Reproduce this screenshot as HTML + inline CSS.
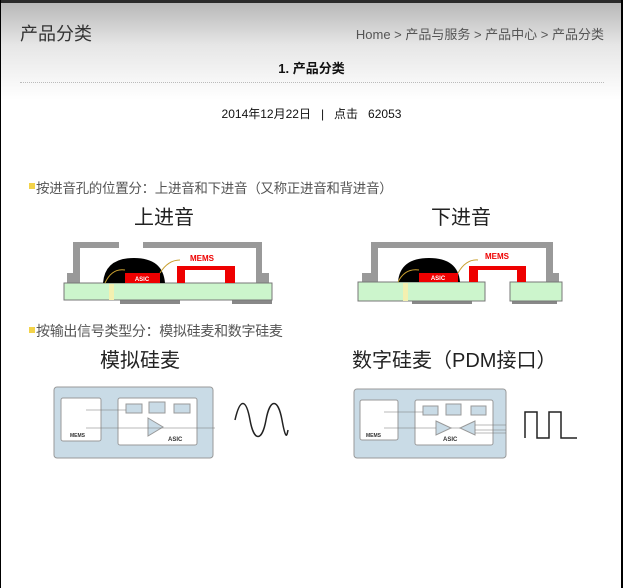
<!DOCTYPE html>
<html><head><meta charset="utf-8"><style>
body{margin:0;width:623px;height:588px;overflow:hidden;background:#fff;font-family:"Liberation Sans","Noto Sans CJK SC",sans-serif;position:relative}
.hdr{position:absolute;left:0;top:0;width:623px;height:100px;background:linear-gradient(#b5b5b5,#e6e6e6 45%,#fff)}
.t{position:absolute;white-space:nowrap}
</style></head><body>
<div class="hdr"></div>
<div style="position:absolute;left:0;top:0;width:623px;height:3px;background:#2a2a2a"></div>
<div style="position:absolute;left:0;top:0;width:1px;height:588px;background:#000"></div>
<div style="position:absolute;right:0;top:0;width:2px;height:588px;background:#000"></div>
<div class="t" style="left:20px;top:20px;font-size:18px;color:#333">产品分类</div>
<div class="t" style="right:19px;top:24px;font-size:13px;color:#555">Home &gt; 产品与服务 &gt; 产品中心 &gt; 产品分类</div>
<div class="t" style="left:0;width:623px;text-align:center;top:58px;font-size:13px;font-weight:bold;color:#111">1. 产品分类</div>
<div style="position:absolute;left:20px;top:82px;width:584px;border-top:1px dotted #bbb"></div>
<div class="t" style="left:0;width:623px;text-align:center;top:105px;font-size:12px;color:#111">2014年12月22日 &nbsp;&nbsp;| &nbsp;&nbsp;点击 &nbsp;&nbsp;62053</div>
<div style="position:absolute;left:29px;top:183px;width:6px;height:6px;background:#f3d34a"></div>
<div class="t" style="left:36px;top:177px;font-size:13.5px;letter-spacing:-0.3px;color:#555">按进音孔的位置分：上进音和下进音（又称正进音和背进音）</div>
<div class="t" style="left:134px;top:201px;font-size:20px;color:#222">上进音</div>
<div class="t" style="left:431px;top:201px;font-size:20px;color:#222">下进音</div>
<div style="position:absolute;left:29px;top:327px;width:6px;height:6px;background:#f3d34a"></div>
<div class="t" style="left:36px;top:321px;font-size:14px;letter-spacing:-0.3px;color:#555">按输出信号类型分：模拟硅麦和数字硅麦</div>
<div class="t" style="left:100px;top:344px;font-size:20px;color:#222">模拟硅麦</div>
<div class="t" style="left:352px;top:344px;font-size:20px;color:#222">数字硅麦（PDM接口）</div>
<svg width="623" height="588" style="position:absolute;left:0;top:0">
<g>
<path d="M67,283V273H73V242H119V248H80V283Z" fill="#999"/>
<path d="M143,242H262V273H269V283H256V248H143Z" fill="#999"/>
<rect x="120" y="298" width="60" height="6" fill="#888"/><rect x="232" y="298" width="40" height="6" fill="#888"/>
<rect x="64" y="283" width="208" height="17" fill="#ccf5cc" stroke="#777"/>
<rect x="109" y="284" width="5" height="16" fill="#f3f0b0"/>
<path d="M103,283Q105,258 134,258Q163,258 165,283Z" fill="#000"/>
<rect x="125" y="273" width="35" height="10" fill="#e00"/>
<text x="142" y="281" font-size="6" fill="#fff" text-anchor="middle" font-weight="bold">ASIC</text>
<path d="M105,283Q112,268 125,270M160,273Q168,260 180,260" stroke="#c9a030" fill="none"/>
<path d="M177,283V266H235V283H225V270H185V283Z" fill="#e00"/>
<text x="190" y="261" font-size="8" fill="#e00" font-weight="bold">MEMS</text>
</g>
<g>
<path d="M362,282V273H371V242H553V273H559V282H546V248H378V282Z" fill="#999"/>
<rect x="412" y="298" width="60" height="6" fill="#888"/><rect x="512" y="298" width="45" height="6" fill="#888"/>
<rect x="358" y="282" width="127" height="19" fill="#ccf5cc" stroke="#777"/>
<rect x="510" y="282" width="52" height="19" fill="#ccf5cc" stroke="#777"/>
<rect x="403" y="283" width="5" height="18" fill="#f3f0b0"/>
<path d="M398,282Q400,258 429,258Q458,258 460,282Z" fill="#000"/>
<rect x="419" y="273" width="39" height="9" fill="#e00"/>
<text x="438" y="280" font-size="6" fill="#fff" text-anchor="middle" font-weight="bold">ASIC</text>
<path d="M398,282Q405,268 419,270M458,273Q466,259 478,260" stroke="#c9a030" fill="none"/>
<path d="M469,282V266H526V282H517V270H478V282Z" fill="#e00"/>
<text x="485" y="259" font-size="8" fill="#e00" font-weight="bold">MEMS</text>
</g>
<g>
<rect x="54" y="387" width="159" height="71" rx="3" fill="#c9dbe6" stroke="#999"/>
<rect x="61" y="398" width="40" height="43" rx="2" fill="#fff" stroke="#999"/>
<rect x="118" y="398" width="79" height="47" rx="2" fill="#fff" stroke="#999"/>
<rect x="126" y="404" width="16" height="9" fill="#c9dbe6" stroke="#999"/>
<rect x="149" y="402" width="16" height="11" fill="#c9dbe6" stroke="#999"/>
<rect x="174" y="404" width="16" height="9" fill="#c9dbe6" stroke="#999"/>
<path d="M148,418L163,427L148,436Z" fill="#c9dbe6" stroke="#999"/>
<path d="M86,410H126M86,428H215" stroke="#777" stroke-width="0.6"/>
<text x="70" y="437" font-size="5" font-weight="bold" fill="#333">MEMS</text>
<text x="168" y="441" font-size="6" font-weight="bold" fill="#333">ASIC</text>
<path d="M235,420C240,398 246,398 250,420S262,442 266,420S278,398 282,420S287,435 288,430" stroke="#222" stroke-width="1.5" fill="none"/>
</g>
<g>
<rect x="354" y="389" width="152" height="69" rx="3" fill="#c9dbe6" stroke="#999"/>
<rect x="360" y="400" width="38" height="40" rx="2" fill="#fff" stroke="#999"/>
<rect x="415" y="400" width="78" height="45" rx="2" fill="#fff" stroke="#999"/>
<rect x="423" y="406" width="15" height="9" fill="#c9dbe6" stroke="#999"/>
<rect x="446" y="404" width="15" height="11" fill="#c9dbe6" stroke="#999"/>
<rect x="471" y="406" width="15" height="9" fill="#c9dbe6" stroke="#999"/>
<path d="M436,421L451,428L436,435Z" fill="#c9dbe6" stroke="#999"/>
<path d="M475,421L460,428L475,435Z" fill="#c9dbe6" stroke="#999"/>
<path d="M384,412H423M384,428H436M451,428H460M475,425H506M475,430H506M475,433H506" stroke="#777" stroke-width="0.6"/>
<text x="366" y="437" font-size="5" font-weight="bold" fill="#333">MEMS</text>
<text x="443" y="441" font-size="6" font-weight="bold" fill="#333">ASIC</text>
<path d="M525,438V412H537V438H549V412H561V438H577" stroke="#222" stroke-width="1.5" fill="none"/>
</g>
</svg>
</body></html>
